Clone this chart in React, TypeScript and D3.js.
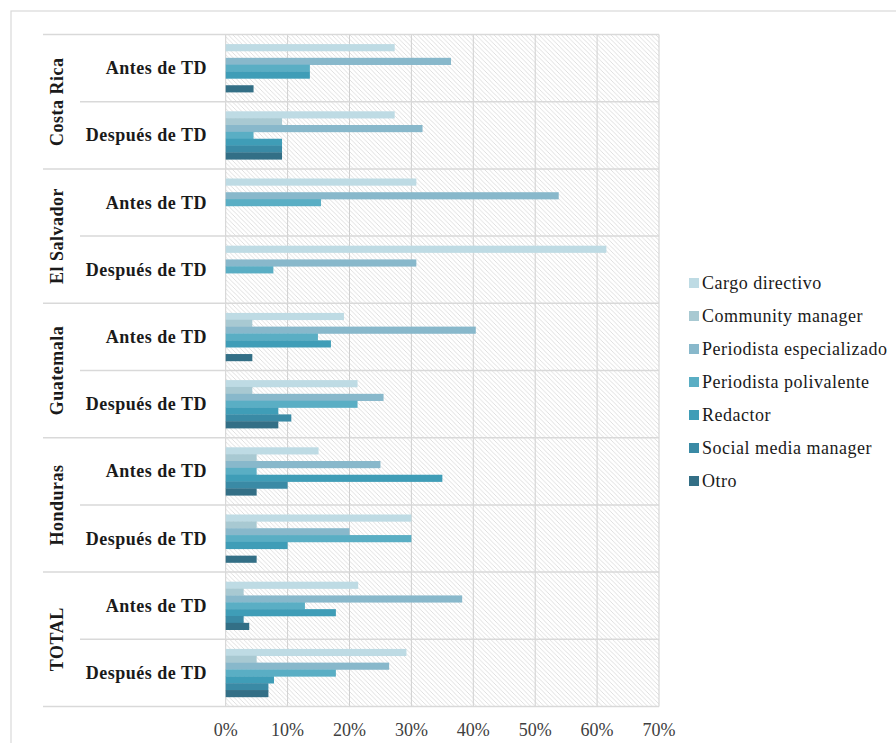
import React from "react";
import * as d3 from "d3";

const countries = ["Costa Rica", "El Salvador", "Guatemala", "Honduras", "TOTAL"];
const periods = ["Antes de TD", "Después de TD"];
const series = [
  "Cargo directivo",
  "Community manager",
  "Periodista especializado",
  "Periodista polivalente",
  "Redactor",
  "Social media manager",
  "Otro",
];
const colors = ["#bedbe4", "#a8c9d2", "#88b8cb", "#5aaec4", "#3f9db7", "#3a8aa5", "#336f86"];

// values in %, one array per series, order: CR antes, CR despues, ES antes, ES despues, GT antes, GT despues, HN antes, HN despues, TOT antes, TOT despues
const cargoDirectivo = [27.3, 27.3, 30.8, 61.5, 19.1, 21.3, 15, 30, 21.4, 29.2];
const communityManager = [0, 9.1, 0, 0, 4.3, 4.3, 5, 5, 2.9, 5.0];
const periodistaEspecializado = [36.4, 31.8, 53.8, 30.8, 40.4, 25.5, 25, 20, 38.2, 26.4];
const periodistaPolivalente = [13.6, 4.5, 15.4, 7.7, 14.9, 21.3, 5, 30, 12.8, 17.8];
const redactor = [13.6, 9.1, 0, 0, 17.0, 8.5, 35, 10, 17.8, 7.8];
const socialMediaManager = [0, 9.1, 0, 0, 0, 10.6, 10, 0, 2.9, 6.9];
const otro = [4.5, 9.1, 0, 0, 4.3, 8.5, 5, 5, 3.8, 6.9];

const seriesValues = [
  cargoDirectivo,
  communityManager,
  periodistaEspecializado,
  periodistaPolivalente,
  redactor,
  socialMediaManager,
  otro,
];
const ticks = [0, 10, 20, 30, 40, 50, 60, 70];

export default function App() {
  const W = 896;
  const H = 743;
  const left = 225.7;
  const right = 659;
  const top = 34.5;
  const bottom = 706.5;

  const rows = countries.flatMap((c) => periods.map((p) => `${c}|${p}`));
  const x = d3.scaleLinear().domain([0, 70]).range([left, right]);
  const y = d3.scaleBand<string>().domain(rows).range([top, bottom]).paddingInner(0).paddingOuter(0);
  const inner = d3
    .scaleBand<string>()
    .domain(series)
    .range([0, y.bandwidth()])
    .paddingInner(0)
    .paddingOuter(1.4);

  const serif = { fontFamily: "Liberation Serif" };
  const sepColor = "#d9d9d9";

  return (
    <div style={{ position: "absolute", left: 0, top: 0, width: W, height: H, background: "#fff" }}>
      <svg width={W} height={H} style={{ display: "block" }}>
        <defs>
          <pattern id="hatch" patternUnits="userSpaceOnUse" width={4.5} height={4.5}>
            <rect width={4.5} height={4.5} fill="#ffffff" />
            <path d="M-1,-1 L5.5,5.5 M-1,3.5 L1,5.5 M3.5,-1 L5.5,1" stroke="#d8d8d8" strokeWidth={0.8} />
          </pattern>
        </defs>
        <rect x={0} y={0} width={W} height={H} fill="#fff" />
        {/* outer frame */}
        <rect x={11} y={11} width={W} height={H} fill="none" stroke={sepColor} strokeWidth={1.2} />

        {/* plot background */}
        <rect x={left} y={top} width={right - left} height={bottom - top} fill="url(#hatch)" />

        {/* vertical gridlines */}
        {ticks.map((t) => (
          <line key={t} x1={x(t)} x2={x(t)} y1={top} y2={bottom} stroke="#d0d0d0" strokeWidth={1} />
        ))}

        {/* horizontal separators */}
        <line x1={43} x2={right} y1={top} y2={top} stroke={sepColor} strokeWidth={1.5} />
        {rows.map((r, i) => {
          const yy = (y(r) as number) + y.bandwidth();
          const isCountry = i % 2 === 1;
          return (
            <line
              key={r}
              x1={isCountry ? 43 : 80}
              x2={right}
              y1={yy}
              y2={yy}
              stroke={sepColor}
              strokeWidth={1.5}
            />
          );
        })}

        {/* bars */}
        {rows.map((r, ri) =>
          series.map((s, si) => {
            const v = seriesValues[si][ri];
            if (!v) return null;
            return (
              <rect
                key={r + s}
                x={x(0)}
                y={(y(r) as number) + (inner(s) as number)}
                width={x(v) - x(0)}
                height={inner.bandwidth() + 0.3}
                fill={colors[si]}
              />
            );
          })
        )}

        {/* sub labels */}
        {rows.map((r) => {
          const p = r.split("|")[1];
          return (
            <text
              key={"l" + r}
              x={207}
              y={(y(r) as number) + y.bandwidth() / 2}
              textAnchor="end"
              dominantBaseline="central"
              style={{ ...serif, letterSpacing: "0.5px" }}
              fontWeight="bold"
              fontSize={18}
              fill="#1a1a1a"
            >
              {p}
            </text>
          );
        })}

        {/* country labels */}
        {countries.map((c) => {
          const cy = (y(`${c}|${periods[0]}`) as number) + y.bandwidth();
          return (
            <text
              key={c}
              transform={`translate(57,${cy}) rotate(-90)`}
              textAnchor="middle"
              dominantBaseline="central"
              style={{ ...serif, letterSpacing: "0.5px" }}
              fontWeight="bold"
              fontSize={18}
              fill="#1a1a1a"
            >
              {c}
            </text>
          );
        })}

        {/* x tick labels */}
        {ticks.map((t) => (
          <text
            key={"t" + t}
            x={x(t)}
            y={730}
            textAnchor="middle"
            dominantBaseline="central"
            style={serif}
            fontSize={18}
            fill="#404040"
          >
            {`${t}%`}
          </text>
        ))}

        {/* legend */}
        {series.map((s, i) => {
          const ly = 283 + i * 33;
          return (
            <g key={"lg" + s}>
              <rect x={689} y={ly - 5} width={10} height={10} fill={colors[i]} />
              <text
                x={702}
                y={ly}
                dominantBaseline="central"
                style={{ ...serif, letterSpacing: "0.5px" }}
                fontSize={18}
                fill="#1a1a1a"
              >
                {s}
              </text>
            </g>
          );
        })}
      </svg>
    </div>
  );
}
